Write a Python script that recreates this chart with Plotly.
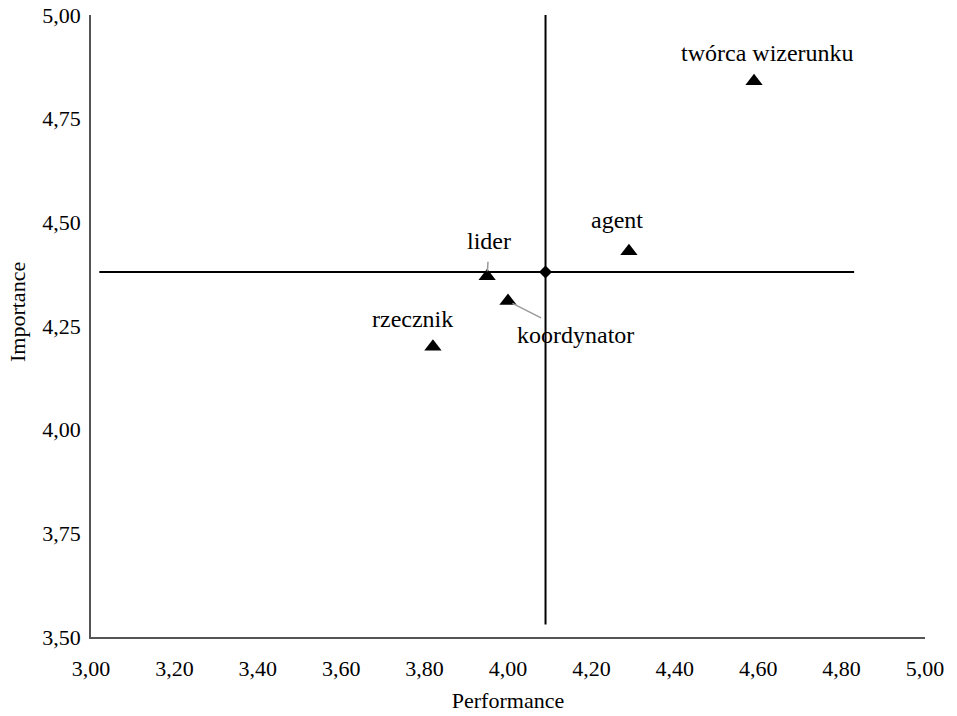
import plotly.graph_objects as go

# Role ratings: performance (x) vs importance (y)
roles = ["twórca wizerunku", "agent", "lider", "koordynator", "rzecznik"]
performance = [4.59, 4.29, 3.95, 4.00, 3.82]
importance = [4.84, 4.43, 4.37, 4.31, 4.20]

# Overall means used to split the chart into quadrants
mean_performance = 4.09
mean_importance = 4.38

# Extent of the quadrant dividers
h_line_x = [3.02, 4.83]
v_line_y = [3.53, 5.01]

x_ticks = [3.0, 3.2, 3.4, 3.6, 3.8, 4.0, 4.2, 4.4, 4.6, 4.8, 5.0]
y_ticks = [3.5, 3.75, 4.0, 4.25, 4.5, 4.75, 5.0]

# Label placement offsets in pixels (ax, ay) and whether a leader line is drawn
label_offsets = {
    "twórca wizerunku": (13, -28, False),
    "agent": (-12, -31, False),
    "lider": (2, -35, True),
    "koordynator": (67, 34, True),
    "rzecznik": (-20, -28, False),
}

FONT = "Liberation Serif, DejaVu Serif, serif"

fig = go.Figure()

fig.add_trace(go.Scatter(
    x=h_line_x, y=[mean_importance, mean_importance],
    mode="lines", line=dict(color="black", width=2),
    hoverinfo="skip", showlegend=False,
))
fig.add_trace(go.Scatter(
    x=[mean_performance, mean_performance], y=v_line_y,
    mode="lines", line=dict(color="black", width=2),
    hoverinfo="skip", showlegend=False,
))
fig.add_trace(go.Scatter(
    x=[mean_performance], y=[mean_importance],
    mode="markers", marker=dict(symbol="diamond", size=10, color="black"),
    showlegend=False,
))
fig.add_trace(go.Scatter(
    x=performance, y=importance, text=roles,
    mode="markers",
    marker=dict(symbol="triangle-up", size=15, color="black"),
    showlegend=False,
))

for name, px_, py_ in zip(roles, performance, importance):
    ax, ay, leader = label_offsets[name]
    fig.add_annotation(
        x=px_, y=py_, text=name,
        showarrow=True, ax=ax, ay=ay,
        arrowhead=0, arrowwidth=1.5,
        arrowcolor="#9a9a9a" if leader else "rgba(0,0,0,0)",
        standoff=5, startstandoff=6,
        font=dict(family=FONT, size=24, color="black"),
    )

# Vertical axis title, placed just inside the left page edge
fig.add_annotation(
    xref="paper", yref="paper", x=0, y=0.5225,
    xanchor="center", yanchor="middle",
    xshift=-74, textangle=-90, showarrow=False,
    text="Importance", font=dict(family=FONT, size=22, color="black"),
)

fig.update_layout(
    width=957, height=716,
    margin=dict(l=91, r=32, t=15, b=79),
    paper_bgcolor="white", plot_bgcolor="white",
    separators=", ",
    font=dict(family=FONT, size=22, color="black"),
    xaxis=dict(
        range=[3.0, 5.0], tickvals=x_ticks, tickformat=".2f",
        showgrid=False, zeroline=False, automargin=False,
        showline=True, linecolor="#555555", linewidth=1.5,
        ticks="outside", ticklen=11, tickcolor="rgba(0,0,0,0)",
        tickfont=dict(size=22),
        title=dict(text="Performance", font=dict(size=22), standoff=12),
    ),
    yaxis=dict(
        range=[3.5, 5.0], tickvals=y_ticks, tickformat=".2f",
        showgrid=False, zeroline=False, automargin=False,
        showline=True, linecolor="#555555", linewidth=1.5,
        ticks="outside", ticklen=4, tickcolor="rgba(0,0,0,0)",
        tickfont=dict(size=22),
    ),
)

fig.write_html("out.html")
